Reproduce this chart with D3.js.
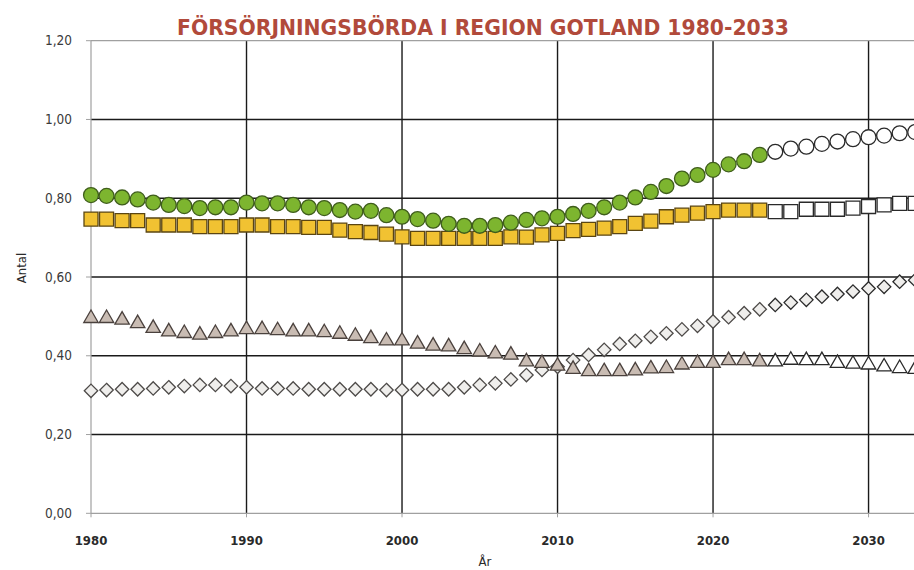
<!DOCTYPE html>
<html>
<head>
<meta charset="utf-8">
<script src="https://cdn.jsdelivr.net/npm/d3@7"></script>
<style>
  body { margin: 0; background: #fff; }
  svg { display: block; }
  text { font-family: "Liberation Sans Narrow", "Arial Narrow", "DejaVu Sans Condensed", sans-serif; }
</style>
</head>
<body>
<svg id="chart" width="914" height="570"></svg>
<script>
// one value per year, 1980-2033; from 2024 the values are forecast (hollow markers)
const years = d3.range(1980, 2034);
const lastObserved = 2023;

const total = [0.808, 0.806, 0.802, 0.797, 0.789, 0.783, 0.780, 0.775, 0.777, 0.777,
               0.789, 0.787, 0.787, 0.783, 0.777, 0.775, 0.770, 0.766, 0.768, 0.757,
               0.753, 0.747, 0.743, 0.735, 0.730, 0.730, 0.732, 0.738, 0.745, 0.749,
               0.753, 0.760, 0.768, 0.777, 0.789, 0.802, 0.816, 0.831, 0.850, 0.859,
               0.872, 0.886, 0.894, 0.910, 0.918, 0.926, 0.931, 0.938, 0.944, 0.950,
               0.955, 0.959, 0.965, 0.968];
const riket = [0.747, 0.747, 0.743, 0.743, 0.732, 0.732, 0.732, 0.728, 0.728, 0.728,
               0.732, 0.732, 0.728, 0.728, 0.726, 0.726, 0.719, 0.715, 0.713, 0.709,
               0.702, 0.698, 0.698, 0.698, 0.698, 0.698, 0.698, 0.702, 0.701, 0.707,
               0.711, 0.718, 0.721, 0.724, 0.728, 0.736, 0.742, 0.753, 0.757, 0.762,
               0.766, 0.770, 0.770, 0.770, 0.766, 0.766, 0.772, 0.772, 0.772, 0.775,
               0.779, 0.783, 0.787, 0.787];
const young = [0.495, 0.495, 0.491, 0.482, 0.470, 0.461, 0.457, 0.453, 0.457, 0.461,
               0.467, 0.467, 0.464, 0.461, 0.461, 0.459, 0.455, 0.450, 0.444, 0.438,
               0.438, 0.430, 0.425, 0.423, 0.416, 0.410, 0.405, 0.402, 0.385, 0.381,
               0.374, 0.366, 0.360, 0.360, 0.360, 0.362, 0.367, 0.368, 0.377, 0.381,
               0.381, 0.388, 0.388, 0.385, 0.385, 0.389, 0.388, 0.388, 0.381, 0.379,
               0.377, 0.372, 0.368, 0.366];
const old =   [0.311, 0.313, 0.315, 0.315, 0.317, 0.320, 0.323, 0.326, 0.326, 0.323,
               0.320, 0.317, 0.317, 0.317, 0.315, 0.315, 0.315, 0.315, 0.315, 0.313,
               0.313, 0.315, 0.315, 0.315, 0.320, 0.326, 0.330, 0.340, 0.351, 0.364,
               0.372, 0.389, 0.402, 0.415, 0.430, 0.438, 0.448, 0.457, 0.467, 0.476,
               0.487, 0.498, 0.508, 0.518, 0.529, 0.535, 0.542, 0.550, 0.557, 0.563,
               0.571, 0.575, 0.588, 0.592];

const yTicks = [0, 0.2, 0.4, 0.6, 0.8, 1.0, 1.2];
const xTicks = [1980, 1990, 2000, 2010, 2020, 2030];

const title = "FÖRSÖRJNINGSBÖRDA I REGION GOTLAND 1980-2033";

const series = [
    {name: "old",   values: old,   symbol: d3.symbolDiamond2, size: 115, fill: "#efeeec", stroke: "#4d4a48", hollow: "#efeeec"},
    {name: "young", values: young, symbol: d3.symbolTriangle, size: 90,  fill: "#c9bcb3", stroke: "#4a413d", hollow: "#ffffff"},
    {name: "riket", values: riket, symbol: d3.symbolSquare,   size: 196, fill: "#f1c232", stroke: "#5a4512", hollow: "#ffffff"},
    {name: "total", values: total, symbol: d3.symbolCircle,   size: 175, fill: "#7db52f", stroke: "#3f5d1c", hollow: "#ffffff"}
];

const svg = d3.select("#chart");

const x = d3.scaleLinear().domain([1980, 2033]).range([91, 915.2]);
const y = d3.scaleLinear().domain([0, 1.2]).range([513.3, 40.7]);
const fmt = d => d3.format(".2f")(d).replace(".", ",");

// grid
svg.selectAll("line.hgrid")
    .data(yTicks.filter(d => d > 0 && d < 1.2))
    .enter().append("line").attr("class", "hgrid")
    .attr("x1", x(1980)).attr("x2", 914)
    .attr("y1", d => y(d)).attr("y2", d => y(d))
    .style("stroke", "#1a1a1a").style("stroke-width", 1.4);
svg.selectAll("line.vgrid")
    .data(xTicks.filter(d => d > 1980))
    .enter().append("line").attr("class", "vgrid")
    .attr("x1", d => x(d)).attr("x2", d => x(d))
    .attr("y1", y(1.2)).attr("y2", y(0))
    .style("stroke", "#1a1a1a").style("stroke-width", 1.4);

// frame: top, left, bottom in gray
svg.append("line").attr("x1", x(1980)).attr("x2", 914).attr("y1", y(1.2)).attr("y2", y(1.2))
    .style("stroke", "#a0a0a0").style("stroke-width", 1.2);
svg.append("line").attr("x1", x(1980)).attr("x2", x(1980)).attr("y1", y(1.2)).attr("y2", y(0))
    .style("stroke", "#a0a0a0").style("stroke-width", 1.2);
svg.append("line").attr("x1", x(1980)).attr("x2", 914).attr("y1", y(0)).attr("y2", y(0))
    .style("stroke", "#a0a0a0").style("stroke-width", 1.2);

// ticks and labels
svg.selectAll("line.ytick")
    .data(yTicks).enter().append("line").attr("class", "ytick")
    .attr("x1", x(1980) - 5).attr("x2", x(1980))
    .attr("y1", d => y(d)).attr("y2", d => y(d))
    .style("stroke", "#a0a0a0");
svg.selectAll("text.ylab")
    .data(yTicks).enter().append("text").attr("class", "ylab")
    .attr("x", 72).attr("y", d => y(d) + 4.5)
    .attr("text-anchor", "end")
    .style("font-size", "13.5px").style("fill", "#3a3a3a")
    .text(fmt);
svg.selectAll("line.xtick")
    .data(xTicks).enter().append("line").attr("class", "xtick")
    .attr("x1", d => x(d)).attr("x2", d => x(d))
    .attr("y1", y(0)).attr("y2", y(0) + 4)
    .style("stroke", "#a0a0a0");
svg.selectAll("text.xlab")
    .data(xTicks).enter().append("text").attr("class", "xlab")
    .attr("x", d => x(d)).attr("y", 545)
    .attr("text-anchor", "middle")
    .style("font-size", "13px").style("fill", "#2a2a2a").style("font-weight", "bold")
    .text(d => d);

svg.append("text")
    .attr("x", 485).attr("y", 566)
    .attr("text-anchor", "middle")
    .style("font-size", "13px").style("fill", "#2a2a2a")
    .text("År");
svg.append("text")
    .attr("transform", "translate(26,268) rotate(-90)")
    .attr("text-anchor", "middle")
    .style("font-size", "13px").style("fill", "#2a2a2a")
    .text("Antal");

svg.append("text")
    .attr("x", 483).attr("y", 35)
    .attr("text-anchor", "middle")
    .attr("textLength", 612).attr("lengthAdjust", "spacingAndGlyphs")
    .style("font-size", "22px").style("font-weight", "bold").style("fill", "#b14a3b")
    .text(title);

// markers
series.forEach(function(s) {
    const pts = years.map((yr, i) => ({year: yr, value: s.values[i]}));
    svg.append("g").attr("class", "series " + s.name)
        .selectAll("path")
        .data(pts).enter()
        .append("path")
        .attr("d", d3.symbol().type(s.symbol).size(s.size))
        .attr("transform", d => `translate(${[x(d.year), y(d.value)]})`)
        .style("fill", d => d.year <= lastObserved ? s.fill : s.hollow)
        .style("stroke", d => d.year <= lastObserved ? s.stroke : "#2a2a2a")
        .style("stroke-width", 1.3);
});
</script>
</body>
</html>
